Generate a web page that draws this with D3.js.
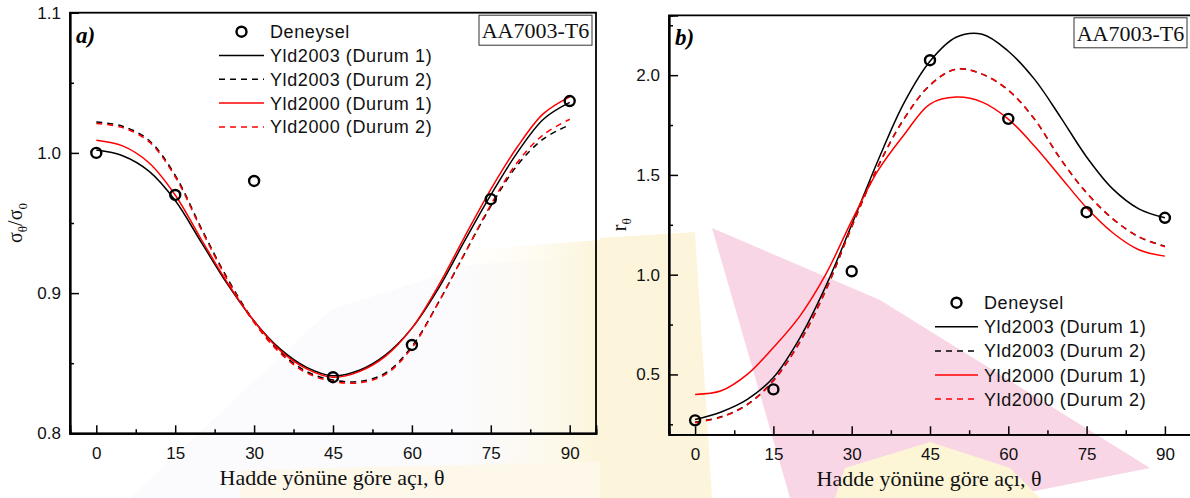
<!DOCTYPE html>
<html>
<head>
<meta charset="utf-8">
<script src="https://cdn.jsdelivr.net/npm/d3@7"></script>
<style>
  html, body { margin: 0; padding: 0; background: #ffffff; }
  svg { display: block; }
</style>
</head>
<body>
<svg id="chart" width="1190" height="498"></svg>
<script>
// ---------------- DATA ----------------
const curveAngles = [0,5,10,15,20,25,30,35,40,45,50,55,60,65,70,75,80,85,90];
const expAngles = [0,15,30,45,60,75,90];
const xTicks = [0,15,30,45,60,75,90];

// Panel a) normalized yield stress  sigma_theta / sigma_0
const expStressA = [1.000,0.970,0.980,0.840,0.863,0.967,1.037];
const yld2003D1_A = [1.002,0.998,0.987,0.966,0.936,0.906,0.880,0.860,0.847,0.841,0.845,0.856,0.875,0.903,0.937,0.970,1.000,1.024,1.036];
const yld2003D2_A = [1.022,1.019,1.009,0.984,0.946,0.910,0.880,0.858,0.844,0.838,0.837,0.843,0.862,0.893,0.928,0.962,0.991,1.010,1.020];
const yld2000D1_A = [1.009,1.005,0.993,0.970,0.938,0.907,0.880,0.859,0.846,0.840,0.844,0.855,0.875,0.905,0.940,0.974,1.004,1.028,1.040];
const yld2000D2_A = [1.021,1.018,1.008,0.983,0.945,0.909,0.879,0.857,0.843,0.837,0.836,0.842,0.861,0.893,0.928,0.963,0.993,1.013,1.024];
const yTicksA = [0.8,0.9,1.0,1.1];

// Panel b) r-values  r_theta
const expRB = [0.27,0.425,1.017,2.075,1.781,1.313,1.285];
const yld2003D1_B = [0.274,0.312,0.375,0.485,0.68,0.94,1.25,1.57,1.86,2.07,2.19,2.205,2.12,1.98,1.79,1.59,1.43,1.33,1.285];
const yld2003D2_B = [0.261,0.288,0.35,0.47,0.66,0.92,1.24,1.54,1.78,1.95,2.03,2.005,1.925,1.78,1.58,1.41,1.28,1.19,1.143];
const yld2000D1_B = [0.40,0.418,0.50,0.635,0.79,1.00,1.27,1.52,1.70,1.855,1.89,1.865,1.78,1.645,1.49,1.335,1.21,1.125,1.093];
const yld2000D2_B = [0.258,0.286,0.348,0.468,0.66,0.92,1.24,1.54,1.78,1.95,2.03,2.005,1.925,1.78,1.58,1.41,1.28,1.19,1.140];
const yTicksB = [0.5,1.0,1.5,2.0];

const seriesNames = ["Deneysel","Yld2003 (Durum 1)","Yld2003 (Durum 2)","Yld2000 (Durum 1)","Yld2000 (Durum 2)"];
const materialLabel = "AA7003-T6";
const xTitle = "Hadde yönüne göre açı, θ";

// ---------------- DRAWING ----------------
const svg = d3.select("#chart");

// faint background watermark (decorative)
const defs = svg.append("defs");
const gY = defs.append("linearGradient").attr("id","gy").attr("x1","0").attr("x2","1");
gY.append("stop").attr("offset","0").attr("stop-color","#fefcf3").attr("stop-opacity",0);
gY.append("stop").attr("offset","1").attr("stop-color","#fcf5da").attr("stop-opacity",1);
const wm = svg.append("g").attr("class","watermark");
wm.append("path").attr("d","M130,498 L330,310 L470,265 L600,255 L600,498 Z").attr("fill","#fbfafd");
wm.append("path").attr("d","M450,498 L470,250 L600,240 L600,498 Z").attr("fill","url(#gy)");
wm.append("path").attr("d","M240,470 L600,462 L600,498 L240,498 Z").attr("fill","#fdf8ea");
wm.append("path").attr("d","M600,238 L695,232 L712,498 L600,498 Z").attr("fill","#fcf5dc");
wm.append("path").attr("d","M712,228 L880,300 L1150,468 L1000,498 L790,498 Z").attr("fill","#f9d6e5");
wm.append("path").attr("d","M845,468 L930,442 L1010,468 L1040,498 L835,498 Z").attr("fill","#fcf6d6");

const lineStyles = [
  {data:null},
  {color:"#000000", dash:null},
  {color:"#000000", dash:"6,5"},
  {color:"#ff0000", dash:null},
  {color:"#ff0000", dash:"6,5"}
];

function drawPanel(cfg) {
  const g = svg.append("g");
  const x = d3.scaleLinear().domain([-5,95]).range([cfg.left, cfg.right]);
  const y = d3.scaleLinear().domain(cfg.yDomain).range([cfg.bottom, cfg.top]);

  // frame
  if (cfg.fullBox) {
    g.append("rect").attr("x",cfg.left).attr("y",cfg.top)
      .attr("width",cfg.right-cfg.left).attr("height",cfg.bottom-cfg.top)
      .attr("fill","none").attr("stroke","#000").attr("stroke-width",1.8);
  } else {
    g.append("path").attr("d",`M${cfg.left},${cfg.bottom} V${cfg.top} H${cfg.right}`)
      .attr("fill","none").attr("stroke","#000").attr("stroke-width",1.8);
  }

  // x axis
  const xAxis = d3.axisBottom(x).tickValues(xTicks).tickSize(-8).tickPadding(14).tickFormat(d3.format("d"));
  const xa = g.append("g").attr("transform",`translate(0,${cfg.bottom})`).call(xAxis);
  const xMinor = d3.axisBottom(x).tickValues(xTicks.slice(0,-1).map(d=>d+7.5)).tickSize(-4).tickFormat("");
  const xm = g.append("g").attr("transform",`translate(0,${cfg.bottom})`).call(xMinor);
  // y axis
  const yAxis = d3.axisLeft(y).tickValues(cfg.yTicks).tickSize(-9).tickPadding(9).tickFormat(d3.format(".1f"));
  const ya = g.append("g").attr("transform",`translate(${cfg.left},0)`).call(yAxis);
  const yMinor = d3.axisLeft(y).tickValues(cfg.yMinor).tickSize(-4).tickFormat("");
  const ym = g.append("g").attr("transform",`translate(${cfg.left},0)`).call(yMinor);
  [xa,xm,ya,ym].forEach(a => {
    a.select(".domain").attr("stroke","#000").attr("stroke-width",1.8);
    a.selectAll(".tick line").attr("stroke","#000").attr("stroke-width",1.5);
    a.selectAll("text").attr("font-family","'Liberation Sans', Arial, sans-serif")
      .attr("font-size","17px").attr("fill","#111");
  });

  // curves
  const lineGen = d3.line().x((d,i)=>x(curveAngles[i])).y(d=>y(d)).curve(d3.curveCatmullRom.alpha(0.5));
  const clip = "clip" + cfg.id;
  defs.append("clipPath").attr("id",clip).append("rect")
    .attr("x",cfg.left).attr("y",cfg.top).attr("width",cfg.right-cfg.left).attr("height",cfg.bottom-cfg.top);
  const cg = g.append("g").attr("clip-path",`url(#${clip})`);
  cfg.curves.forEach((vals, k) => {
    const st = lineStyles[k+1];
    cg.append("path").datum(vals).attr("d",lineGen)
      .attr("fill","none").attr("stroke",st.color).attr("stroke-width",1.5)
      .attr("stroke-dasharray",st.dash);
  });
  // experimental points
  cg.selectAll("circle.exp").data(cfg.exp).enter().append("circle")
    .attr("cx",(d,i)=>x(expAngles[i])).attr("cy",d=>y(d)).attr("r",5)
    .attr("fill","none").attr("stroke","#000").attr("stroke-width",2.4);

  // panel letter
  g.append("text").attr("x",cfg.left+6).attr("y",cfg.top+30).text(cfg.letter)
    .attr("font-family","'Liberation Serif', 'Times New Roman', serif")
    .attr("font-size","23px").attr("font-weight","bold").attr("font-style","italic");

  // material box
  const bw = 113, bh = 30;
  g.append("rect").attr("x",cfg.right-bw-4).attr("y",cfg.top+2.5).attr("width",bw).attr("height",bh)
    .attr("fill","#fff").attr("stroke","#333").attr("stroke-width",1);
  g.append("text").attr("x",cfg.right-4-bw/2).attr("y",cfg.top+25.5).attr("text-anchor","middle")
    .text(materialLabel).attr("font-family","'Liberation Serif', 'Times New Roman', serif")
    .attr("font-size","22px").attr("fill","#111");

  // x title
  g.append("text").attr("x",(cfg.left+cfg.right)/2 - 1).attr("y",cfg.bottom+52).attr("text-anchor","middle")
    .text(xTitle).attr("font-family","'Liberation Serif', 'Times New Roman', serif")
    .attr("font-size","22px").attr("fill","#111");

  // y title
  const yt = g.append("text").attr("transform",`translate(${cfg.yTitleX},${(cfg.top+cfg.bottom)/2}) rotate(-90)`)
    .attr("text-anchor","middle").attr("font-family","'Liberation Serif', 'Times New Roman', serif")
    .attr("font-size","20px").attr("fill","#111");
  cfg.yTitle(yt);

  // legend
  const lg = g.append("g");
  seriesNames.forEach((name,k) => {
    const cy = cfg.legY + k*cfg.legDy;
    if (k === 0) {
      lg.append("circle").attr("cx",(cfg.legX0+cfg.legX1)/2).attr("cy",cy).attr("r",5)
        .attr("fill","none").attr("stroke","#000").attr("stroke-width",2.4);
    } else {
      const st = lineStyles[k];
      lg.append("line").attr("x1",cfg.legX0).attr("x2",cfg.legX1).attr("y1",cy).attr("y2",cy)
        .attr("stroke",st.color).attr("stroke-width",1.5).attr("stroke-dasharray",st.dash);
    }
    lg.append("text").attr("x",cfg.legX1+6).attr("y",cy+6.5).text(name)
      .attr("font-family","'Liberation Sans', Arial, sans-serif").attr("font-size","18px")
      .attr("letter-spacing","0.6px").attr("fill","#111");
  });
}

drawPanel({
  id:"A", left:70, right:596, top:12.7, bottom:433.3, yDomain:[0.8,1.1],
  yTicks:yTicksA, yMinor:[0.85,0.95,1.05], fullBox:true,
  curves:[yld2003D1_A, yld2003D2_A, yld2000D1_A, yld2000D2_A], exp:expStressA,
  letter:"a)", yTitleX:22,
  yTitle: t => {
    t.append("tspan").text("σ");
    t.append("tspan").text("θ").attr("font-size","13px").attr("dy","5");
    t.append("tspan").text("/σ").attr("dy","-5");
    t.append("tspan").text("0").attr("font-size","13px").attr("dy","5");
  },
  legX0:219, legX1:264, legY:31.7, legDy:23.8
});

drawPanel({
  id:"B", left:669, right:1191, top:15.3, bottom:434.3, yDomain:[0.2,2.3],
  yTicks:yTicksB, yMinor:[0.25,0.75,1.25,1.75,2.25], fullBox:false,
  curves:[yld2003D1_B, yld2003D2_B, yld2000D1_B, yld2000D2_B], exp:expRB,
  letter:"b)", yTitleX:626,
  yTitle: t => {
    t.append("tspan").text("r");
    t.append("tspan").text("θ").attr("font-size","13px").attr("dy","5");
  },
  legX0:935, legX1:978, legY:302.7, legDy:24.1
});
</script>
</body>
</html>
